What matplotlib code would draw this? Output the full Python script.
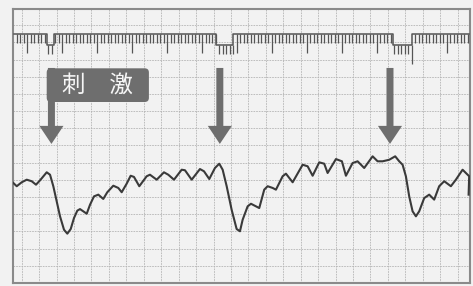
import numpy as np
import matplotlib
matplotlib.use("Agg")
import matplotlib.pyplot as plt
from matplotlib.patches import FancyArrow, FancyBboxPatch

plt.rcParams["font.family"] = ["Noto Sans CJK JP", "DejaVu Sans"]

# recorded trace: time (s) and amplitude (grid divisions)
trace_t = [5.99, 6.97, 8.40, 9.83, 11.26, 12.49, 13.63, 15.55, 16.50, 17.44,
           18.41, 19.36, 20.50, 21.45, 22.42, 23.36, 24.31, 25.08, 26.02, 27.00,
           27.94, 29.08, 30.32, 31.74, 32.89, 34.61, 36.04, 37.01, 38.44, 39.58,
           40.53, 42.05, 44.16, 45.10, 47.03, 49.11, 50.34, 51.98, 54.18, 55.12,
           57.04, 59.41, 60.56, 62.08, 63.70, 64.94, 65.91, 67.06, 68.48, 69.91,
           70.86, 71.63, 73.06, 74.01, 75.44, 76.38, 77.81, 78.78, 80.21, 81.16,
           83.08, 84.02, 85.94, 88.80, 90.23, 91.66, 93.55, 94.98, 95.95, 98.33,
           100.04, 101.19, 103.10, 104.53, 106.42, 108.83, 110.26, 111.69, 113.58, 115.29,
           116.44, 117.41, 118.35, 119.30, 120.27, 121.22, 122.16, 123.59, 125.02, 126.45,
           127.88, 129.32, 131.23, 132.66, 134.58, 135.52, 136.47, 136.30]
trace_y = [5.82, 5.63, 5.86, 6.01, 5.92, 5.72, 5.97, 6.44, 6.30, 5.63,
           4.75, 3.88, 3.10, 2.87, 3.14, 3.78, 4.21, 4.30, 4.17, 4.03,
           4.55, 5.04, 5.14, 4.89, 5.28, 5.66, 5.53, 5.28, 5.78, 6.24,
           6.17, 5.63, 6.21, 6.30, 6.01, 6.44, 6.30, 6.01, 6.59, 6.56,
           6.01, 6.63, 6.50, 6.05, 6.69, 6.94, 6.59, 5.63, 4.26, 3.14,
           3.01, 3.68, 4.46, 4.61, 4.46, 4.36, 5.43, 5.63, 5.53, 5.43,
           6.21, 6.36, 5.86, 6.88, 6.79, 6.24, 7.02, 6.94, 6.40, 7.21,
           7.08, 6.24, 6.98, 7.08, 6.69, 7.37, 7.08, 7.08, 7.17, 7.37,
           7.08, 6.88, 6.21, 5.04, 4.17, 3.88, 4.17, 4.94, 5.14, 4.85,
           5.63, 5.92, 5.63, 6.01, 6.59, 6.40, 6.21, 5.14]

# stimulus periods (s) and arrow positions (s)
stim_start = [15.6, 64.1, 114.6]
stim_end = [17.7, 69.0, 120.1]
arrow_t = [16.9, 65.1, 113.8]

# time marker: one tick per second, long tick every 10 s
marker_t = np.arange(7, 137)
label = "刺　激"

paper = "#f2f2f2"
fig = plt.figure(figsize=(4.73, 2.86), dpi=100, facecolor=paper)
ax = fig.add_axes([12.5 / 473, 3 / 286, 457.5 / 473, 274 / 286])
ax.set_facecolor(paper)
ax.set_xlim(5.76, 136.7)
ax.set_ylim(0, 15.94)

# chart paper grid
grid_style = dict(color="#b4b4b4", lw=0.6, ls=(0, (2, 1.2)), zorder=1)
for gx in np.arange(8.41, 136, 4.99):
    ax.axvline(gx, **grid_style)
for gy in range(1, 16):
    ax.axhline(gy, **grid_style)
for s in ax.spines.values():
    s.set_color("#8a8a8a")
    s.set_linewidth(1.5)
ax.set_xticks([])
ax.set_yticks([])

# marker channel
base_hi, base_lo, tick_len = 14.49, 13.85, 0.55
step_x, step_y = [marker_t[0] - 0.8], [base_hi]
for a, b in zip(stim_start, stim_end):
    step_x += [a, a, b, b]
    step_y += [base_hi, base_lo, base_lo, base_hi]
step_x.append(marker_t[-1] + 0.3)
step_y.append(base_hi)
ax.plot(step_x, step_y, color="#555555", lw=1.1, zorder=3)

tops = []
for t in marker_t:
    low = any(a <= t <= b for a, b in zip(stim_start, stim_end))
    tops.append(base_lo if low else base_hi)
tops = np.array(tops)
lens = np.where(marker_t % 10 == 0, 2 * tick_len, tick_len)
ax.vlines(marker_t, tops - lens, tops, color="#555555", lw=0.9, zorder=3)

# arrows
for t in arrow_t:
    ax.add_patch(FancyArrow(t, 12.51, 0, -4.42, width=2.0, head_width=6.9,
                            head_length=1.05, length_includes_head=True,
                            color="#6e6e6e", lw=0, zorder=4))

# label box
box = FancyBboxPatch((15.55, 10.53), 29.25, 1.96,
                     boxstyle="round,pad=0,rounding_size=1.2",
                     mutation_aspect=0.203, color="#6e6e6e", lw=0, zorder=4)
ax.add_patch(box)
ax.text(30.0, 11.48, label, color="#f6f6f6", fontsize=17,
        ha="center", va="center", zorder=5)

# recorded trace
ax.plot(trace_t, trace_y, color="#3a3a3a", lw=1.5, zorder=3)

fig.savefig("out.png", dpi=100, facecolor=paper)
